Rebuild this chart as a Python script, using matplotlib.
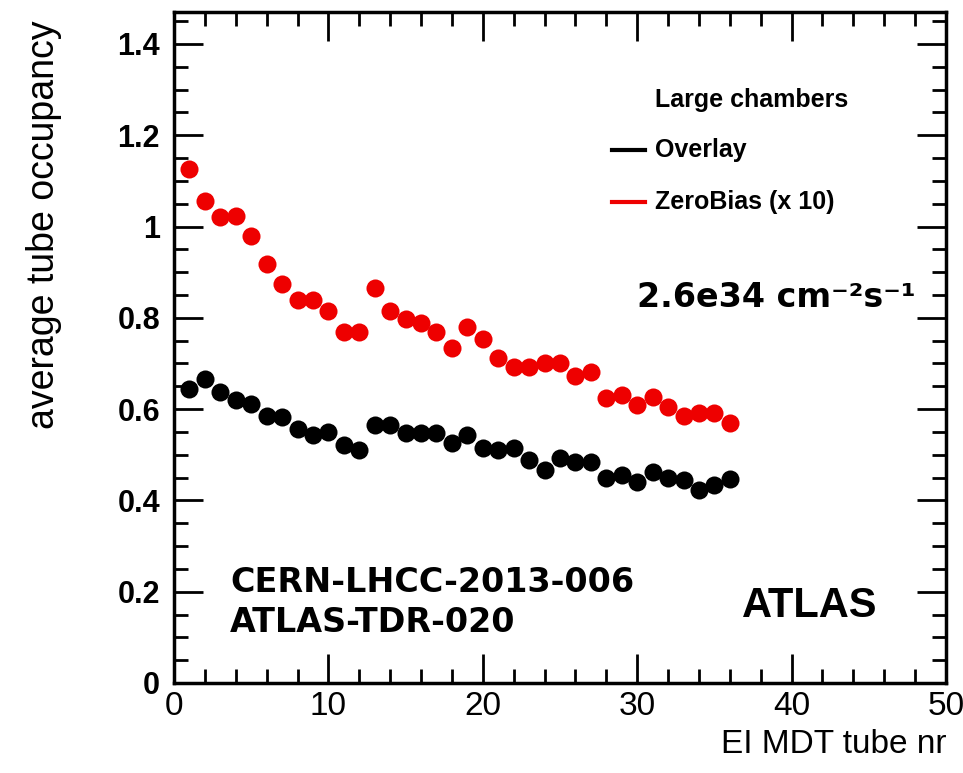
import matplotlib
matplotlib.use("Agg")
import matplotlib.pyplot as plt
from matplotlib.ticker import MultipleLocator

tube_nr = list(range(1, 37))
overlay = [0.645, 0.667, 0.637, 0.619, 0.612, 0.584, 0.582, 0.556, 0.543, 0.549,
           0.521, 0.510, 0.565, 0.565, 0.548, 0.547, 0.547, 0.525, 0.543, 0.514,
           0.510, 0.514, 0.488, 0.466, 0.492, 0.484, 0.484, 0.449, 0.455, 0.440,
           0.462, 0.449, 0.444, 0.422, 0.433, 0.446]
zerobias_x10 = [1.127, 1.057, 1.020, 1.022, 0.980, 0.917, 0.875, 0.838, 0.838, 0.814,
                0.768, 0.768, 0.866, 0.816, 0.797, 0.788, 0.768, 0.733, 0.781, 0.753,
                0.713, 0.692, 0.692, 0.702, 0.702, 0.672, 0.681, 0.624, 0.630, 0.608,
                0.626, 0.604, 0.586, 0.591, 0.591, 0.569]

series_names = ["Overlay", "ZeroBias (x 10)"]
legend_title = "Large chambers"
x_label = "EI MDT tube nr"
y_label = "average tube occupancy"

RED = "#ee0000"

fig = plt.figure(figsize=(9.63, 7.73), dpi=100)
ax = fig.add_axes([174 / 963, 90 / 773, 772 / 963, 671 / 773])

ax.plot(tube_nr, overlay, "o", color="black", markersize=13, markeredgewidth=0)
ax.plot(tube_nr, zerobias_x10, "o", color=RED, markersize=13, markeredgewidth=0)

ax.set_xlim(0, 50)
ax.set_ylim(0, 1.47)

ax.xaxis.set_major_locator(MultipleLocator(10))
ax.xaxis.set_minor_locator(MultipleLocator(2))
ax.yaxis.set_major_locator(MultipleLocator(0.2))
ax.yaxis.set_minor_locator(MultipleLocator(0.05))

ax.tick_params(which="both", direction="in", top=True, right=True, width=2)
ax.tick_params(which="major", length=21)
ax.tick_params(which="minor", length=10)
ax.tick_params(axis="x", which="major", pad=6, labelsize=24)
ax.tick_params(axis="y", which="major", pad=10, labelsize=22)

ax.set_yticks([0, 0.2, 0.4, 0.6, 0.8, 1.0, 1.2, 1.4])
ax.set_yticklabels(["0", "0.2", "0.4", "0.6", "0.8", "1", "1.2", "1.4"])
for lab in ax.get_yticklabels():
    lab.set_fontfamily("Liberation Sans")
    lab.set_fontweight("bold")
for lab in ax.get_xticklabels():
    lab.set_fontfamily("Liberation Sans")

for sp in ax.spines.values():
    sp.set_linewidth(2.5)

ax.set_xlabel(x_label, fontsize=24, family="Liberation Sans", loc="right")
ax.xaxis.set_label_coords(1.0, -0.068)
ax.xaxis.label.set_va("top")
ax.set_ylabel(y_label, fontsize=27, family="Liberation Sans", loc="top")
ax.yaxis.set_label_coords(-0.145, 0.988)

# legend
ax.text(0.623, 0.869, legend_title, transform=ax.transAxes, fontsize=18,
        family="Liberation Sans", weight="bold", va="center", ha="left")
ax.plot([0.567, 0.610], [0.794, 0.794], transform=ax.transAxes, color="black", lw=3)
ax.text(0.623, 0.794, series_names[0], transform=ax.transAxes, fontsize=18,
        family="Liberation Sans", weight="bold", va="center", ha="left")
ax.plot([0.567, 0.610], [0.717, 0.717], transform=ax.transAxes, color=RED, lw=3)
ax.text(0.623, 0.717, series_names[1], transform=ax.transAxes, fontsize=18,
        family="Liberation Sans", weight="bold", va="center", ha="left")

ax.text(0.600, 0.575, "2.6e34 cm\u207b\u00b2s\u207b\u00b9", transform=ax.transAxes,
        fontsize=24, family="DejaVu Sans", weight="bold", va="center", ha="left")

ax.text(0.0725, 0.1505, "CERN-LHCC-2013-006", transform=ax.transAxes,
        fontsize=24, family="DejaVu Sans", weight="bold", va="center", ha="left")
ax.text(0.0725, 0.0909, "ATLAS-TDR-020", transform=ax.transAxes,
        fontsize=24, family="DejaVu Sans", weight="bold", va="center", ha="left")

ax.text(0.823, 0.115, "ATLAS", transform=ax.transAxes,
        fontsize=30, family="Liberation Sans", weight="bold", va="center", ha="center")

fig.savefig("out.png", dpi=100)
